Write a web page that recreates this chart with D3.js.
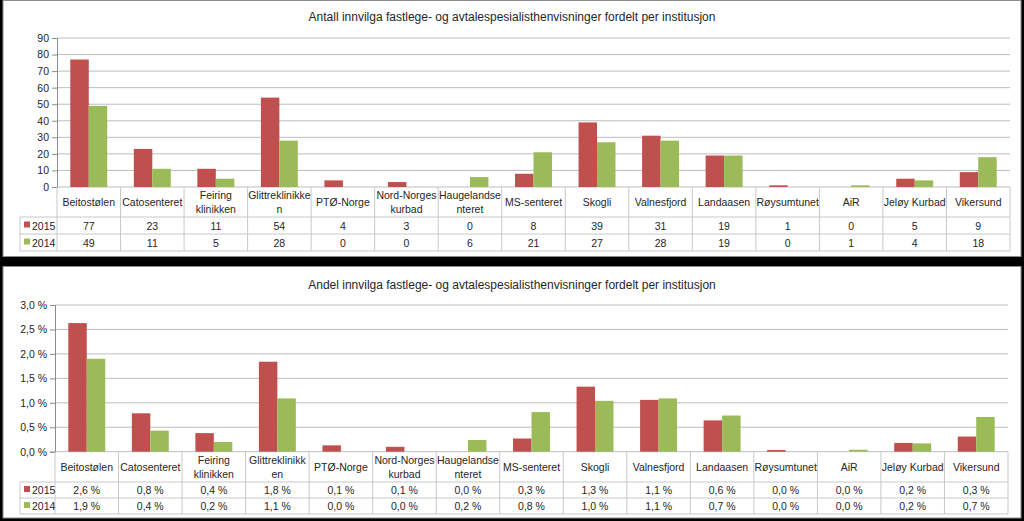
<!DOCTYPE html>
<html><head><meta charset="utf-8">
<script src="https://cdn.jsdelivr.net/npm/d3@7"></script>
<style>
body{margin:0;background:#000;}
svg{display:block;}
text{font-family:"Liberation Sans",Arial,sans-serif;fill:#262626;}
</style></head>
<body>
<svg id="c" width="1024" height="521"></svg>
<script>
const categories = ["Beitostølen","Catosenteret","Feiring klinikken","Glittreklinikken","PTØ-Norge","Nord-Norges kurbad","Haugelandsenteret","MS-senteret","Skogli","Valnesfjord","Landaasen","Røysumtunet","AiR","Jeløy Kurbad","Vikersund"];
const labelsTop = [["Beitostølen"],["Catosenteret"],["Feiring","klinikken"],["Glittreklinikke","n"],["PTØ-Norge"],["Nord-Norges","kurbad"],["Haugelandse","nteret"],["MS-senteret"],["Skogli"],["Valnesfjord"],["Landaasen"],["Røysumtunet"],["AiR"],["Jeløy Kurbad"],["Vikersund"]];
const labelsBottom = [["Beitostølen"],["Catosenteret"],["Feiring","klinikken"],["Glittreklinikk","en"],["PTØ-Norge"],["Nord-Norges","kurbad"],["Haugelandse","nteret"],["MS-senteret"],["Skogli"],["Valnesfjord"],["Landaasen"],["Røysumtunet"],["AiR"],["Jeløy Kurbad"],["Vikersund"]];
const series = ["2015","2014"];
const count2015 = [77,23,11,54,4,3,0,8,39,31,19,1,0,5,9];
const count2014 = [49,11,5,28,0,0,6,21,27,28,19,0,1,4,18];
const share2015 = [2.63,0.785,0.38,1.84,0.13,0.10,0,0.27,1.33,1.06,0.64,0.035,0,0.18,0.31];
const share2014 = [1.90,0.43,0.20,1.09,0,0,0.24,0.81,1.04,1.09,0.74,0,0.04,0.17,0.71];
const countTicks = [0,10,20,30,40,50,60,70,80,90];
const shareTicks = [0,0.5,1.0,1.5,2.0,2.5,3.0];
const titleTop = "Antall innvilga fastlege- og avtalespesialisthenvisninger fordelt per institusjon";
const titleBottom = "Andel innvilga fastlege- og avtalespesialisthenvisninger fordelt per institusjon";
const colors = {"2015":"#C0504D","2014":"#9BBB59"};

const svg = d3.select("#c");
const pctFmt = v => v.toFixed(1).replace(".", ",") + " %";

function drawChart(o){
  const g = svg.append("g");
  g.append("rect").attr("x",o.box[0]).attr("y",o.box[1]).attr("width",o.box[2]).attr("height",o.box[3])
    .attr("fill","#fff").attr("stroke","#8c8c8c").attr("stroke-width",1);
  g.append("text").attr("x",o.titleX).attr("y",o.titleY).attr("text-anchor","middle")
    .attr("font-size",12).text(o.title);
  const x = d3.scaleBand().domain(categories).range([o.left,o.right]).padding(0);
  const xs = d3.scaleBand().domain(series).range([0,x.bandwidth()]).paddingInner(0).paddingOuter(0.72);
  const y = d3.scaleLinear().domain([0,o.yMax]).range([o.bottom,o.top]);
  g.append("g").selectAll("line").data(o.ticks).join("line")
    .attr("x1",o.left).attr("x2",o.right).attr("y1",d=>y(d)).attr("y2",d=>y(d))
    .attr("stroke","#bdbdbd").attr("stroke-width",1);
  const ax = d3.axisLeft(y).tickValues(o.ticks).tickFormat(o.tickFmt).tickSize(5).tickPadding(3);
  const axg = g.append("g").attr("transform",`translate(${o.left},0)`).call(ax);
  axg.select(".domain").attr("stroke","#8c8c8c");
  axg.selectAll(".tick line").attr("stroke","#8c8c8c");
  axg.selectAll("text").attr("font-size",10.5).attr("font-family","Liberation Sans, Arial, sans-serif").attr("fill","#262626");
  const data = [o.v15,o.v14];
  series.forEach((s,si)=>{
    g.append("g").selectAll("rect").data(categories).join("rect")
      .attr("x",c=>x(c)+xs(s)).attr("width",xs.bandwidth())
      .attr("y",(c,i)=>y(data[si][i])).attr("height",(c,i)=>y(0)-y(data[si][i]))
      .attr("fill",colors[s]);
  });
  const tc = "#c8c8c8";
  const tg = g.append("g");
  [o.rows[0],o.rows[1],o.rows[2]].forEach((yy)=>{
    tg.append("line").attr("x1",o.legendLeft).attr("x2",o.right).attr("y1",yy).attr("y2",yy).attr("stroke",tc);
  });
  categories.forEach((c,i)=>{
    if(i===0) return;
    tg.append("line").attr("x1",x(c)).attr("x2",x(c)).attr("y1",o.bottom).attr("y2",o.rows[2]).attr("stroke",tc);
  });
  tg.append("line").attr("x1",o.right).attr("x2",o.right).attr("y1",o.bottom).attr("y2",o.rows[2]).attr("stroke",tc);
  tg.append("line").attr("x1",o.left).attr("x2",o.left).attr("y1",o.bottom).attr("y2",o.rows[2]).attr("stroke",tc);
  tg.append("line").attr("x1",o.legendLeft).attr("x2",o.legendLeft).attr("y1",o.rows[0]).attr("y2",o.rows[2]).attr("stroke",tc);
  categories.forEach((c,i)=>{
    const lines = o.labels[i];
    const cy = (o.bottom + o.rows[0])/2;
    const lh = 14;
    lines.forEach((ln,k)=>{
      tg.append("text").attr("x",x(c)+x.bandwidth()/2)
        .attr("y",cy + (k - (lines.length-1)/2)*lh + 4)
        .attr("text-anchor","middle").attr("font-size",10.5).text(ln);
    });
  });
  series.forEach((s,si)=>{
    const r0 = o.rows[si], r1 = o.rows[si+1];
    const cy = (r0+r1)/2 + 4;
    tg.append("rect").attr("x",o.legendLeft+4).attr("y",cy-8).attr("width",6).attr("height",6).attr("fill",colors[s]);
    tg.append("text").attr("x",o.legendLeft+12).attr("y",cy).attr("font-size",10.5).text(s);
    categories.forEach((c,i)=>{
      tg.append("text").attr("x",x(c)+x.bandwidth()/2).attr("y",cy).attr("text-anchor","middle")
        .attr("font-size",10.5).text(o.valFmt(data[si][i]));
    });
  });
}

drawChart({box:[3,0.5,1018,256], title:titleTop, titleX:512, titleY:21,
  left:57, right:1010, top:38, bottom:187, rows:[217,234,251], legendLeft:20,
  yMax:90, ticks:countTicks, tickFmt:d=>String(d), v15:count2015, v14:count2014, valFmt:v=>String(v),
  labels:labelsTop});
drawChart({box:[3,266.5,1018,251.5], title:titleBottom, titleX:512, titleY:289,
  left:55, right:1008, top:305, bottom:451.7, rows:[482,498,514], legendLeft:20,
  yMax:3.0, ticks:shareTicks, tickFmt:d=>d.toFixed(1).replace(".",",")+" %", v15:share2015, v14:share2014, valFmt:pctFmt,
  labels:labelsBottom});
</script>
</body></html>
